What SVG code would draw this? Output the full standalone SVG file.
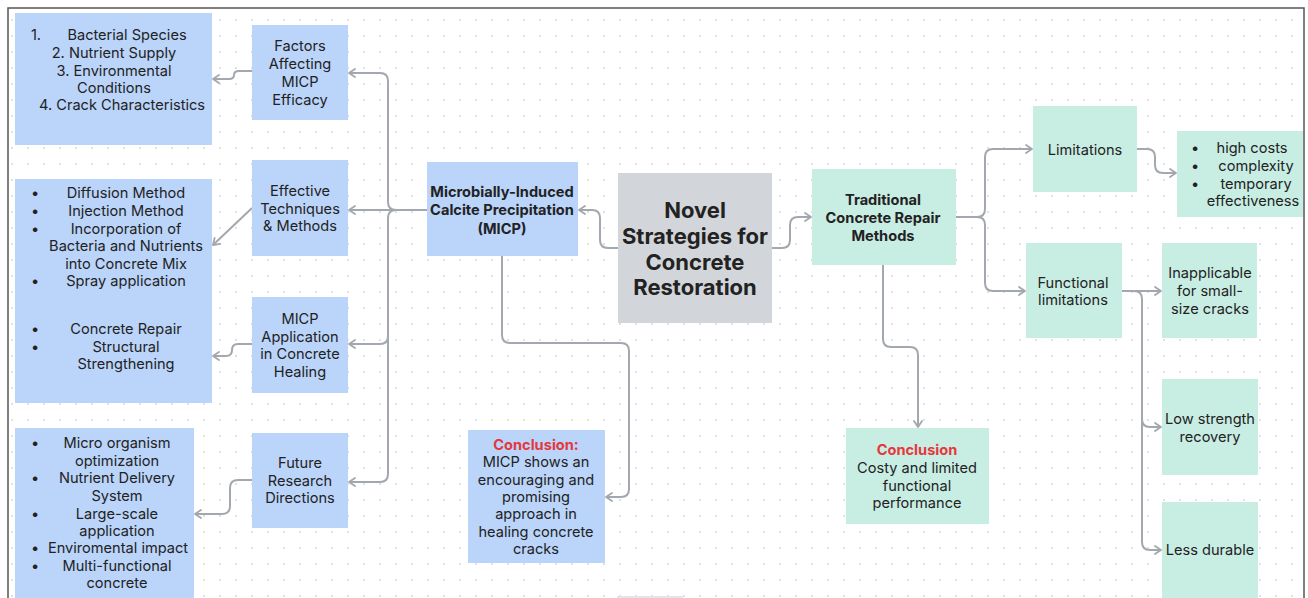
<svg xmlns="http://www.w3.org/2000/svg" width="1308" height="598" viewBox="0 0 1308 598">
<defs>
<pattern id="dots" x="0" y="0" width="16" height="16" patternUnits="userSpaceOnUse">
<circle cx="12" cy="4" r="1" fill="#d4d6da"/>
</pattern>
<marker id="arr" viewBox="0 0 10 10" refX="8" refY="5" markerWidth="10" markerHeight="10" markerUnits="userSpaceOnUse" orient="auto">
<path d="M2,1 L8,5 L2,9" fill="none" stroke="#a3a7ae" stroke-width="1.8" stroke-linecap="round" stroke-linejoin="round"/>
</marker>
<style>
.blue{fill:#bad4fa}
.mint{fill:#c8ede3}
.gray{fill:#d2d5da}
text{font-family:Inter,"Liberation Sans",sans-serif;fill:#222;font-size:14.6px;text-anchor:middle;dominant-baseline:central}
.b{font-weight:700}
.big{font-size:22px;font-weight:700}
.red{fill:#e5383b;font-weight:700}
.c path{fill:none;stroke:#a3a7ae;stroke-width:2}
.c .a{marker-end:url(#arr)}
</style>
</defs>
<rect x="0" y="0" width="1308" height="598" fill="#fff"/>
<rect x="9" y="9" width="1295" height="600" fill="url(#dots)"/>
<path d="M8,598 V8 H1304 V598" fill="none" stroke="#555" stroke-width="1.5"/>

<g class="c" id="connectors">
<path class="a" d="M618,248 H608 Q600,248 600,240 V218 Q600,210 592,210 H579"/>
<path class="a" d="M772,248 H782 Q790,248 790,240 V225 Q790,217 798,217 H811"/>
<path class="a" d="M427,210 H349"/>
<path class="a" d="M396,210 Q388,210 388,202 V81 Q388,73 380,73 H349"/>
<path class="a" d="M396,210 Q388,210 388,218 V336 Q388,344 380,344 H349"/>
<path class="a" d="M388,336 V474 Q388,482 380,482 H349"/>
<path class="a" d="M252,71 H239 Q234,71 234,75 Q234,79 229,79 H213"/>
<path class="a" d="M252,208 L213,245"/>
<path class="a" d="M252,344 H238 Q232,344 232,350 Q232,356 226,356 H213"/>
<path class="a" d="M252,480 H238 Q230,480 230,488 V506 Q230,514 222,514 H195"/>
<path class="a" d="M502,256 V335 Q502,343 510,343 H621 Q629,343 629,351 V489 Q629,497 621,497 H606"/>
<path class="a" d="M883,265 V339 Q883,347 891,347 H910 Q918,347 918,355 V427"/>
<path class="a" d="M956,217 H977 Q985,217 985,209 V157 Q985,149 993,149 H1032"/>
<path class="a" d="M977,217 Q985,217 985,225 V283 Q985,291 993,291 H1025"/>
<path class="a" d="M1137,149 H1147 Q1155,149 1155,157 V165 Q1155,173 1163,173 H1176"/>
<path class="a" d="M1122,291 H1161"/>
<path class="a" d="M1134,291 Q1142,291 1142,299 V419 Q1142,427 1150,427 H1161"/>
<path class="a" d="M1142,419 V542 Q1142,550 1150,550 H1161"/>
</g>

<g id="factors-list">
<rect class="blue" x="15" y="13" width="197" height="132"/>
<text x="36" y="35">1.</text>
<text x="127" y="35">Bacterial Species</text>
<text x="114" y="53">2. Nutrient Supply</text>
<text x="114" y="71">3. Environmental</text>
<text x="114" y="88">Conditions</text>
<text x="122" y="105">4. Crack Characteristics</text>
</g>

<g id="factors">
<rect class="blue" x="252" y="25" width="96" height="95"/>
<text x="300" y="46">Factors</text>
<text x="300" y="64">Affecting</text>
<text x="300" y="82">MICP</text>
<text x="300" y="100">Efficacy</text>
</g>

<g id="techniques-list">
<rect class="blue" x="15" y="179" width="197" height="224"/>
<text x="35" y="193">•</text><text x="126" y="193">Diffusion Method</text>
<text x="35" y="211">•</text><text x="126" y="211">Injection Method</text>
<text x="35" y="229">•</text><text x="126" y="229">Incorporation of</text>
<text x="126" y="246">Bacteria and Nutrients</text>
<text x="126" y="264">into Concrete Mix</text>
<text x="35" y="281">•</text><text x="126" y="281">Spray application</text>
<text x="35" y="329">•</text><text x="126" y="329">Concrete Repair</text>
<text x="35" y="347">•</text><text x="126" y="347">Structural</text>
<text x="126" y="364">Strengthening</text>
</g>

<g id="techniques">
<rect class="blue" x="252" y="160" width="96" height="96"/>
<text x="300" y="191">Effective</text>
<text x="300" y="209">Techniques</text>
<text x="300" y="226">&amp; Methods</text>
</g>

<g id="application">
<rect class="blue" x="252" y="297" width="96" height="96"/>
<text x="300" y="319">MICP</text>
<text x="300" y="337">Application</text>
<text x="300" y="354">in Concrete</text>
<text x="300" y="372">Healing</text>
</g>

<g id="future-list">
<rect class="blue" x="15" y="428" width="179" height="175"/>
<text x="35" y="443">•</text><text x="117" y="443">Micro organism</text>
<text x="117" y="461">optimization</text>
<text x="35" y="478">•</text><text x="117" y="478">Nutrient Delivery</text>
<text x="117" y="496">System</text>
<text x="35" y="514">•</text><text x="117" y="514">Large-scale</text>
<text x="117" y="531">application</text>
<text x="35" y="548">•</text><text x="118" y="548">Enviromental impact</text>
<text x="35" y="566">•</text><text x="117" y="566">Multi-functional</text>
<text x="117" y="583">concrete</text>
</g>

<g id="future">
<rect class="blue" x="252" y="433" width="96" height="95"/>
<text x="300" y="463">Future</text>
<text x="300" y="481">Research</text>
<text x="300" y="498">Directions</text>
</g>

<g id="micp">
<rect class="blue" x="427" y="162" width="151" height="94"/>
<text class="b" x="502" y="192">Microbially-Induced</text>
<text class="b" x="502" y="210">Calcite Precipitation</text>
<text class="b" x="502" y="229">(MICP)</text>
</g>

<g id="novel">
<rect class="gray" x="618" y="173" width="154" height="150"/>
<text class="big" x="695" y="210">Novel</text>
<text class="big" x="695" y="236">Strategies for</text>
<text class="big" x="695" y="262">Concrete</text>
<text class="big" x="695" y="287">Restoration</text>
</g>

<g id="traditional">
<rect class="mint" x="812" y="169" width="144" height="96"/>
<text class="b" x="883" y="200">Traditional</text>
<text class="b" x="883" y="218">Concrete Repair</text>
<text class="b" x="883" y="236">Methods</text>
</g>

<g id="limitations">
<rect class="mint" x="1033" y="106" width="104" height="86"/>
<text x="1085" y="150">Limitations</text>
</g>

<g id="limitations-list">
<rect class="mint" x="1177" y="131" width="126" height="86"/>
<text x="1195" y="148">•</text><text x="1252" y="148">high costs</text>
<text x="1195" y="166">•</text><text x="1256" y="166">complexity</text>
<text x="1195" y="184">•</text><text x="1256" y="184">temporary</text>
<text x="1253" y="201">effectiveness</text>
</g>

<g id="functional">
<rect class="mint" x="1026" y="243" width="96" height="95"/>
<text x="1073" y="283">Functional</text>
<text x="1073" y="300">limitations</text>
</g>

<g id="inapplicable">
<rect class="mint" x="1162" y="243" width="95" height="95"/>
<text x="1210" y="273">Inapplicable</text>
<text x="1210" y="291">for small-</text>
<text x="1210" y="309">size cracks</text>
</g>

<g id="low-strength">
<rect class="mint" x="1162" y="379" width="96" height="96"/>
<text x="1210" y="419">Low strength</text>
<text x="1210" y="437">recovery</text>
</g>

<g id="less-durable">
<rect class="mint" x="1162" y="502" width="96" height="100"/>
<text x="1210" y="550">Less durable</text>
</g>

<g id="conclusion-micp">
<rect class="blue" x="468" y="430" width="137" height="133"/>
<text class="red" x="536" y="445">Conclusion:</text>
<text x="536" y="462">MICP shows an</text>
<text x="536" y="480">encouraging and</text>
<text x="536" y="497">promising</text>
<text x="536" y="514">approach in</text>
<text x="536" y="532">healing concrete</text>
<text x="536" y="549">cracks</text>
</g>

<g id="conclusion-traditional">
<rect class="mint" x="846" y="428" width="143" height="96"/>
<text class="red" x="917" y="450">Conclusion</text>
<text x="917" y="468">Costy and limited</text>
<text x="917" y="486">functional</text>
<text x="917" y="503">performance</text>
</g>

<g id="partial-node">
<rect x="617" y="596" width="66" height="4" fill="#e3e5e8"/>
</g>
</svg>
